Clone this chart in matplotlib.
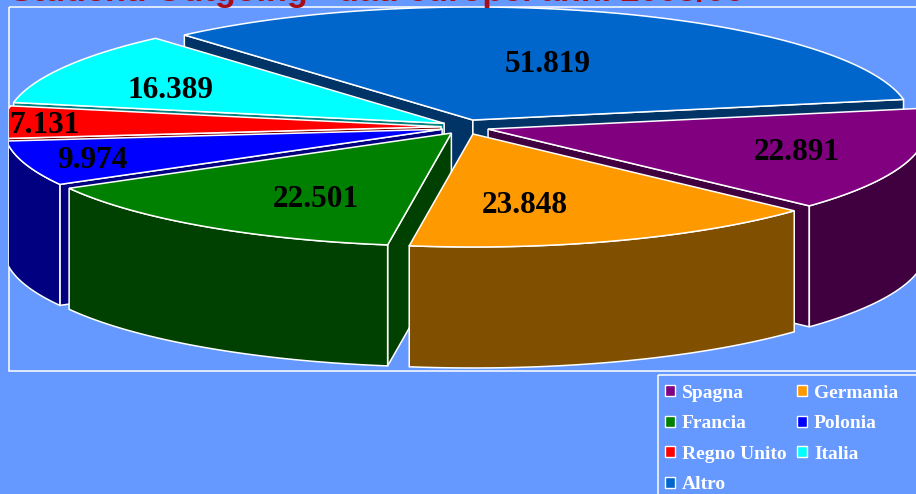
import numpy as np
import matplotlib
matplotlib.use('Agg')
import matplotlib.pyplot as plt
from matplotlib.patches import Polygon, Rectangle

# counter-clockwise from the right, as the slices run in the picture
categories = ['Altro', 'Italia', 'Regno Unito', 'Polonia', 'Francia', 'Germania', 'Spagna']
values = [51.819, 16.389, 7.131, 9.974, 22.501, 23.848, 22.891]
value_labels = ['51.819', '16.389', '7.131', '9.974', '22.501', '23.848', '22.891']
top_colors = ['#0066cc', '#00ffff', '#ff0000', '#0000ff', '#008000', '#ff9900', '#800080']
side_colors = ['#003366', '#008080', '#800000', '#000080', '#004000', '#804f00', '#400040']
legend_order = ['Spagna', 'Francia', 'Regno Unito', 'Altro', 'Germania', 'Polonia', 'Italia']
title_text = 'Studenti Outgoing - dati europei anni 2005/06'

# label centres on the picture, same order as categories
label_pos = [(548, 64), (170, 90), (44, 125), (92, 160), (316, 199), (525, 205), (797, 152)]

BG = '#6699ff'
CX, CY = 465, 127
RX, RY = 438, 113
EX, EY = 24, 7.4
DEPTH = 121
START = 10.5


def ring(a1, a2, n=80):
    t = np.radians(np.linspace(a1, a2, n))
    return np.cos(t), np.sin(t)


fig = plt.figure(figsize=(9.16, 4.94), dpi=100, facecolor=BG)
ax = fig.add_axes([0, 0, 1, 1])
ax.set_xlim(0, 916)
ax.set_ylim(494, 0)
ax.axis('off')

ax.text(10, 0.5, title_text, color='#a80c16', fontsize=24.6, fontweight='bold',
        family='Liberation Sans', va='baseline', ha='left')

# plot frame, the pie is cut by it on the left and at the top
frame = Rectangle((9, 7), 1000, 364, fill=False, ec='white', lw=1.1, zorder=1)
ax.add_patch(frame)


def add_face(pts, color, z):
    p = Polygon(pts, fc=color, ec='white', lw=1.1, zorder=z)
    ax.add_patch(p)
    p.set_clip_path(frame)


angles = START + np.concatenate([[0], np.cumsum(values)]) / np.sum(values) * 360

# back slices first, the front ones paint over them
draw_order = [0, 1, 2, 6, 3, 4, 5]
z = 2
for i in draw_order:
    a1, a2 = angles[i], angles[i + 1]
    mid = np.radians((a1 + a2) / 2)
    ox = CX + EX * np.cos(mid)
    oy = CY - EY * np.sin(mid)
    cs, sn = ring(a1, a2)
    xs = ox + RX * cs
    ys = oy - RY * sn

    # radial walls, only the ones turned towards the viewer
    if np.cos(np.radians(a2)) < 0:
        add_face([(ox, oy), (xs[-1], ys[-1]), (xs[-1], ys[-1] + DEPTH), (ox, oy + DEPTH)], side_colors[i], z)
    if np.cos(np.radians(a1)) > 0:
        add_face([(ox, oy), (xs[0], ys[0]), (xs[0], ys[0] + DEPTH), (ox, oy + DEPTH)], side_colors[i], z)

    # outer rim, front half of the ellipse only
    front = np.sin(np.radians(np.linspace(a1, a2, 80))) < 0
    if front.any():
        rim_x = xs[front]
        rim_y = ys[front]
        add_face(np.column_stack([np.r_[rim_x, rim_x[::-1]], np.r_[rim_y, rim_y[::-1] + DEPTH]]), side_colors[i], z)

    add_face(np.column_stack([np.r_[ox, xs], np.r_[oy, ys]]), top_colors[i], z)
    z += 1

for lab, (lx, ly) in zip(value_labels, label_pos):
    ax.text(lx, ly, lab, color='black', fontsize=22.5, fontweight='bold', family='Liberation Serif',
            ha='center', va='center', zorder=20)

# legend box runs off the picture, so it is drawn apart from the legend
ax.add_patch(Rectangle((658, 375), 400, 200, fill=False, ec='white', lw=1.1, zorder=29))
handles = [Rectangle((0, 0), 1, 1, fc=top_colors[categories.index(c)], ec='white', lw=1) for c in legend_order]
leg = ax.legend(handles, legend_order, ncol=2, loc='upper left',
                bbox_to_anchor=(658 / 916, 1 - 378 / 494), borderaxespad=0,
                frameon=False,
                handlelength=0.5, handleheight=0.5, handletextpad=0.36,
                columnspacing=0.57, labelspacing=0.69, borderpad=0.35,
                prop={'family': 'Liberation Serif', 'weight': 'bold', 'size': 14})
for t in leg.get_texts():
    t.set_color('white')
leg.set_zorder(30)

fig.savefig('out.png', dpi=100, facecolor=BG)
